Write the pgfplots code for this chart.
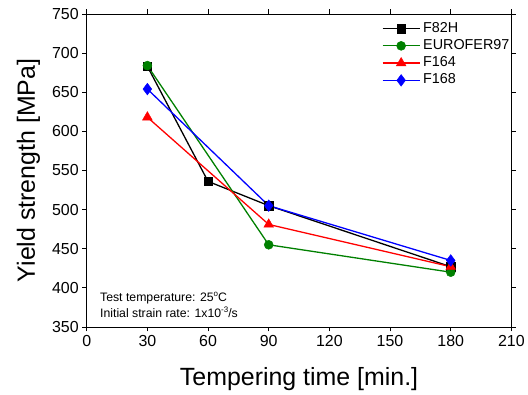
\documentclass[border=0pt]{standalone}
\usepackage{pgfplots}
\pgfplotsset{compat=1.18}
\usepackage{fontspec}
\setmainfont{Liberation Sans}
\definecolor{ogreen}{RGB}{0,128,0}
\begin{document}
\begin{tikzpicture}
\begin{axis}[
  name=main,
  scale only axis,
  width=426pt, height=314pt,
  xmin=0, xmax=210, ymin=350, ymax=750,
  xtick={0,30,...,210}, ytick={350,400,...,750},
  tick align=outside,
  tick style={black, line width=0.8pt},
  major tick length=4.5pt,
  axis line style={line width=0.8pt},
  /pgf/number format/assume math mode=true,
  ticklabel style={font=\fontsize{16}{17}\selectfont},
  xlabel={Tempering time [min.]},
  ylabel={Yield strength [MPa]},
  label style={font=\fontsize{25}{26}\selectfont},
  xlabel style={at={(axis description cs:0.5,-0.188)}, anchor=base},
  ylabel style={at={(axis description cs:-0.122,0.5)}, anchor=base},
  legend style={draw=none, fill=none, at={(0.695,0.975)}, anchor=north west,
    inner sep=0pt, font=\fontsize{14.4}{15}\selectfont, row sep=4pt, column sep=3pt,
    nodes={inner sep=0pt, text height=10.3pt, text depth=3pt}},
  legend cell align=left,
  legend image code/.code={\draw[line width=1.3pt, mark repeat=2,mark phase=2] plot coordinates {(0pt,0pt)(18.5pt,0pt)(37pt,0pt)};},
]
\addplot[black, line width=1.3pt, mark=square*, mark size=4.2pt, mark options={line width=0.5pt}] coordinates {(30,683) (60,536) (90,505) (180,427)};
\addlegendentry{F82H}
\addplot[ogreen, line width=1.3pt, mark=*, mark size=4.5pt, mark options={line width=0.5pt}] coordinates {(30,684) (90,455) (180,420)};
\addlegendentry{EUROFER97}
\addplot[red, line width=1.3pt, mark=triangle*, mark size=5.6pt, mark options={line width=0.5pt}] coordinates {(30,618) (90,481) (180,427)};
\addlegendentry{F164}
\addplot[blue, line width=1.3pt, mark=diamond*, mark size=5.8pt, mark options={line width=0.5pt}] coordinates {(30,654) (90,505) (180,435)};
\addlegendentry{F168}
\node[anchor=base west, font=\fontsize{12.3}{13}\selectfont] at (axis cs:4.9,382) {Test temperature: 25\raisebox{0.8ex}{\fontsize{8}{9}\selectfont o}C};
\node[anchor=base west, font=\fontsize{12.3}{13}\selectfont] at (axis cs:4.9,361.5) {Initial strain rate: 1x10\raisebox{0.8ex}{\fontsize{8}{9}\selectfont -3}/s};
\end{axis}
\path (main.south west) ++(-87pt,-66pt);
\path (main.north east) ++(15pt,14pt);
\end{tikzpicture}
\end{document}
